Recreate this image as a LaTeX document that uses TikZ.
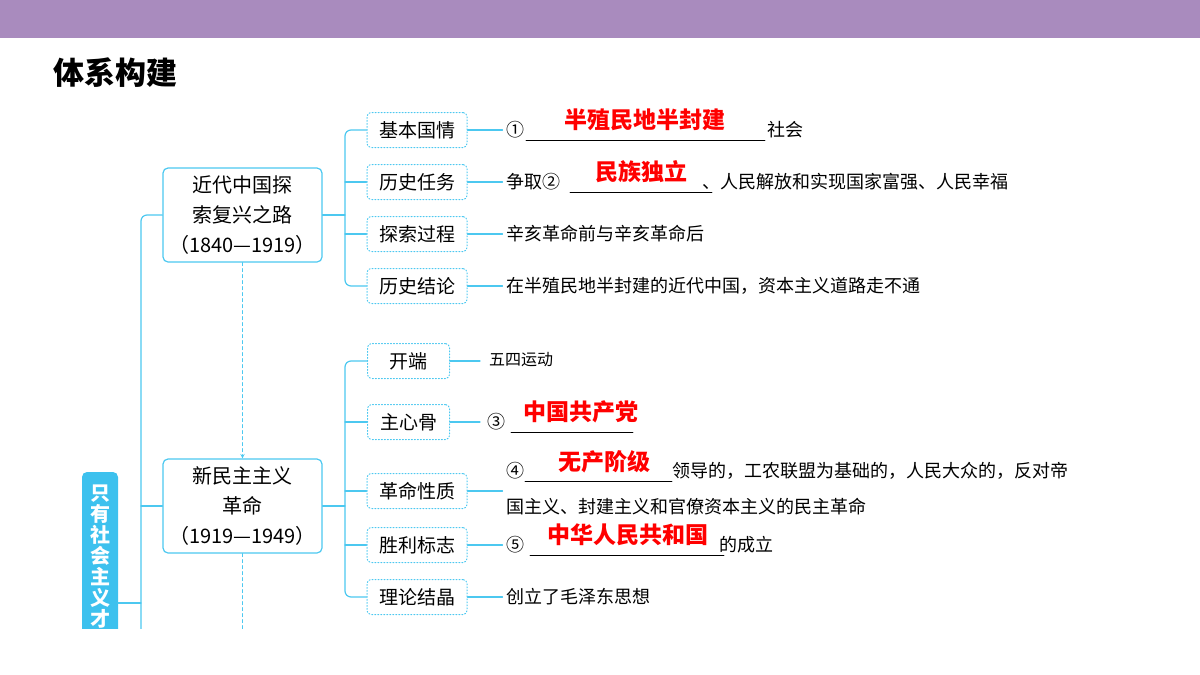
\documentclass[tikz,border=0pt]{standalone}
\usepackage{fontspec}
\setmainfont{Noto Sans CJK SC}
\usetikzlibrary{positioning}
\definecolor{topbar}{HTML}{A98BBE}
\definecolor{linecol}{HTML}{4CC8F0}
\definecolor{sidebox}{HTML}{3DC1EE}
\begin{document}
\begin{tikzpicture}[x=1pt,y=-1pt,line cap=round,line join=round,
  conn/.style={draw=linecol,line width=1.2pt},
  bigbox/.style={draw=linecol,line width=1.2pt,rounded corners=5pt,minimum width=159pt,minimum height=94pt,align=center,font=\fontsize{20}{30}\selectfont,inner sep=0pt},
  smallbox/.style={draw=linecol,line width=1pt,dotted,rounded corners=4pt,minimum height=35pt,minimum width=100pt,inner sep=2pt,font=\fontsize{19}{22}\selectfont},
  info/.style={anchor=west,inner sep=0pt,font=\fontsize{18}{36}\selectfont},
  answer/.style={text=red,font=\fontsize{23}{26}\selectfont\bfseries,inner sep=0pt},
  blank/.style={draw=black,line width=0.6pt}]
\useasboundingbox (0,0) rectangle (1200,675);
\fill[topbar] (0,0) rectangle (1200,38);
\node[anchor=west,inner sep=0pt,font=\fontsize{31}{31}\selectfont\bfseries] (title) at (53,73) {体系构建};
% main branches
\node[bigbox] (road) at (242.5,215) {近代中国探\\索复兴之路\\（1840—1919）};
\node[bigbox] (newdem) at (242.5,506) {新民主主义\\革命\\（1919—1949）};
\begin{scope}
\clip (0,0) rectangle (1200,628);
\fill[sidebox,rounded corners=5pt] (82,472) rectangle (118,700);
\node[anchor=north,inner sep=0pt,align=center,text=white,font=\fontsize{20}{21}\selectfont\bfseries] (side) at (100,485) {只\\有\\社\\会\\主\\义\\才};
\coordinate (sidejoin) at (118,603);
\draw[conn,rounded corners=6pt] (road.west) -| (141,640);
\draw[conn] (newdem.west) -- (newdem.west -| 141,0);
\draw[conn] (sidejoin) -- (141,603);
\draw[conn,dashed,line width=1pt] (newdem.south) -- (242.5,640);
\end{scope}
\draw[conn,dashed,line width=1pt,-stealth] (road.south) -- (newdem.north);
% first group
\node[smallbox] (bq) at (417,130) {基本国情};
\node[smallbox] (rw) at (417,182) {历史任务};
\node[smallbox] (gc) at (417,234) {探索过程};
\node[smallbox] (jl) at (417,286) {历史结论};
\coordinate (forka) at (345,215);
\draw[conn] (road.east) -- (forka);
\draw[conn,rounded corners=6pt] (bq.west) -| (forka) |- (jl.west);
\draw[conn] (rw.west) -- (rw.west -| forka);
\draw[conn] (gc.west) -- (gc.west -| forka);
\node[info] (tbq) at (506,130) {①\hspace{243pt}社会};
\draw[blank] (526,140) -- (765,140);
\node[answer] (abq) at (645,120) {半殖民地半封建};
\node[info] (trw) at (506,182) {争取②\hspace{142pt}、人民解放和实现国家富强、人民幸福};
\draw[blank] (570,192) -- (712,192);
\node[answer] (arw) at (641,172) {民族独立};
\node[info] (tgc) at (506,234) {辛亥革命前与辛亥革命后};
\node[info] (tjl) at (506,286) {在半殖民地半封建的近代中国，资本主义道路走不通};
\draw[conn] (bq.east) -- ++(35,0);
\draw[conn] (rw.east) -- ++(35,0);
\draw[conn] (gc.east) -- ++(35,0);
\draw[conn] (jl.east) -- ++(35,0);
% second group
\node[smallbox,anchor=west,minimum width=82pt] (kd) at (367,361) {开端};
\node[smallbox,anchor=west,minimum width=82pt] (zxg) at (367,422) {主心骨};
\node[smallbox] (xz) at (417,491) {革命性质};
\node[smallbox] (bz) at (417,545) {胜利标志};
\node[smallbox] (jj) at (417,597) {理论结晶};
\coordinate (forkb) at (345,506);
\draw[conn] (newdem.east) -- (forkb);
\draw[conn,rounded corners=6pt] (kd.west) -| (forkb) |- (jj.west);
\draw[conn] (zxg.west) -- (zxg.west -| forkb);
\draw[conn] (xz.west) -- (xz.west -| forkb);
\draw[conn] (bz.west) -- (bz.west -| forkb);
\node[info,font=\fontsize{16}{20}\selectfont] (tkd) at (489,360) {五四运动};
\node[info] (tzxg) at (487,422) {③\hspace{122pt}};
\draw[blank] (511,432) -- (633,432);
\node[answer] (azxg) at (581,412) {中国共产党};
\node[info,align=left] (txz) at (506,489) {④\hspace{148pt}领导的，工农联盟为基础的，人民大众的，反对帝\\国主义、封建主义和官僚资本主义的民主革命};
\draw[blank] (525,481) -- (672,481);
\node[answer] (axz) at (604,462) {无产阶级};
\node[info] (tbz) at (506,545) {⑤\hspace{195pt}的成立};
\draw[blank] (530,555) -- (724,555);
\node[answer] (abz) at (628,535) {中华人民共和国};
\node[info] (tjj) at (506,597) {创立了毛泽东思想};
\draw[conn] (kd.east) -- ++(30,0);
\draw[conn] (zxg.east) -- ++(30,0);
\draw[conn] (xz.east) -- ++(35,0);
\draw[conn] (bz.east) -- ++(35,0);
\draw[conn] (jj.east) -- ++(35,0);
\end{tikzpicture}
\end{document}
